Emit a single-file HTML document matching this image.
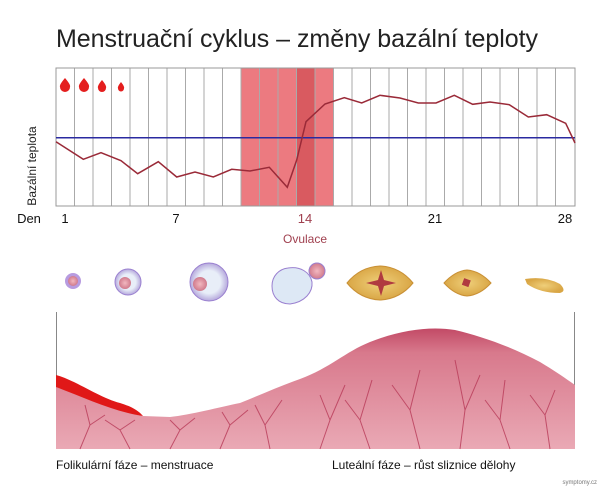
<!DOCTYPE html>
<html><head><meta charset="utf-8"><style>
body{margin:0;background:#fff;}
svg{display:block;font-family:"Liberation Sans","DejaVu Sans",sans-serif;}
</style></head><body>
<svg width="600" height="490" viewBox="0 0 600 490" xmlns="http://www.w3.org/2000/svg">
<defs>
<linearGradient id="lin" x1="0" y1="0" x2="0" y2="1">
<stop offset="0" stop-color="#c24a66"/><stop offset="0.2" stop-color="#d8798c"/><stop offset="1" stop-color="#eaa9b5"/>
</linearGradient>
<radialGradient id="cellb" cx="0.5" cy="0.5" r="0.5"><stop offset="0.6" stop-color="#e8eef8"/><stop offset="1" stop-color="#b5a8dc"/></radialGradient>
<radialGradient id="egg"><stop offset="0" stop-color="#f2b8c0"/><stop offset="1" stop-color="#d07a8c"/></radialGradient>
<radialGradient id="yel"><stop offset="0" stop-color="#efcf7a"/><stop offset="1" stop-color="#d9a645"/></radialGradient>
</defs>
<text x="56" y="47" font-size="25" fill="#222" textLength="482">Menstruační cyklus – změny bazální teploty</text>
<rect x="241" y="68" width="93" height="138" fill="#ec7a80"/>
<rect x="297" y="68" width="18.5" height="138" fill="#d95a60"/>
<g stroke="#aaa" stroke-width="1">
<line x1="74.5" y1="68" x2="74.5" y2="206"/><line x1="93" y1="68" x2="93" y2="206"/><line x1="111.5" y1="68" x2="111.5" y2="206"/><line x1="130" y1="68" x2="130" y2="206"/><line x1="148.5" y1="68" x2="148.5" y2="206"/><line x1="167" y1="68" x2="167" y2="206"/><line x1="185.5" y1="68" x2="185.5" y2="206"/><line x1="204" y1="68" x2="204" y2="206"/><line x1="222.5" y1="68" x2="222.5" y2="206"/><line x1="241" y1="68" x2="241" y2="206"/><line x1="259.5" y1="68" x2="259.5" y2="206"/><line x1="278" y1="68" x2="278" y2="206"/><line x1="296.5" y1="68" x2="296.5" y2="206"/><line x1="315" y1="68" x2="315" y2="206"/><line x1="333.5" y1="68" x2="333.5" y2="206"/><line x1="352" y1="68" x2="352" y2="206"/><line x1="370.5" y1="68" x2="370.5" y2="206"/><line x1="389" y1="68" x2="389" y2="206"/><line x1="407.5" y1="68" x2="407.5" y2="206"/><line x1="426" y1="68" x2="426" y2="206"/><line x1="444.5" y1="68" x2="444.5" y2="206"/><line x1="463" y1="68" x2="463" y2="206"/><line x1="481.5" y1="68" x2="481.5" y2="206"/><line x1="500" y1="68" x2="500" y2="206"/><line x1="518.5" y1="68" x2="518.5" y2="206"/><line x1="537" y1="68" x2="537" y2="206"/><line x1="555.5" y1="68" x2="555.5" y2="206"/>
</g>
<rect x="56" y="68" width="519" height="138" fill="none" stroke="#999"/>
<line x1="56" y1="137.7" x2="575" y2="137.7" stroke="#2a2aa0" stroke-width="1.5"/>
<polyline fill="none" stroke="#9a2a38" stroke-width="1.5" points="56,141.7 83.3,159.3 101,152.7 121,160.7 137.7,173.7 158.3,161.7 176.7,177 195,172 213.3,177 231.7,169.3 250,171 269.3,167.3 287.3,187.3 296.7,160 306,121.7 325,104 344.3,97.7 361.7,103 380,95.3 400,98 418.3,103 436,103 454.3,95.3 472.7,104.3 490,102 509.3,104.7 528.3,117 546.7,114.7 565.7,123.3 575,143"/>
<g fill="#e41e1e">
<path d="M65,78 Q59,85 60,87 A5,5 0 0 0 70,87 Q71,85 65,78Z"/>
<path d="M84,78 Q78,85 79,87 A5,5 0 0 0 89,87 Q90,85 84,78Z"/>
<path d="M102,80 Q97,86 98,88 A4,4 0 0 0 106,88 Q107,86 102,80Z"/>
<path d="M121,82 Q117,87 118,88.5 A3,3 0 0 0 124,88.5 Q125,87 121,82Z"/>
</g>
<text transform="translate(36,166) rotate(-90)" font-size="12" fill="#222" text-anchor="middle">Bazální teplota</text>
<g font-size="13" fill="#111" text-anchor="middle">
<text x="29" y="223">Den</text><text x="65" y="223">1</text><text x="176" y="223">7</text><text x="305" y="223" fill="#a0404f">14</text><text x="435" y="223">21</text><text x="565" y="223">28</text>
</g>
<text x="305" y="243" font-size="12" fill="#a0404f" text-anchor="middle">Ovulace</text>
<circle cx="73" cy="281" r="8" fill="#b79be0"/><circle cx="73" cy="281" r="5" fill="url(#egg)"/>
<circle cx="128" cy="282" r="13" fill="url(#cellb)" stroke="#9a80d0"/><circle cx="125" cy="283" r="6" fill="url(#egg)"/>
<circle cx="209" cy="282" r="19" fill="url(#cellb)" stroke="#9a80d0"/><circle cx="200" cy="284" r="7" fill="url(#egg)"/>
<path d="M288,268 C300,266 310,272 312,282 C313,292 305,302 290,304 C278,304 272,296 272,286 C272,276 279,269 288,268Z" fill="#dde8f5" stroke="#9a80d0"/>
<circle cx="317" cy="271" r="8" fill="url(#egg)" stroke="#9a80d0"/>
<path d="M347,283 Q360,267 380,266 Q400,267 413,283 Q400,299 380,300 Q360,299 347,283Z" fill="url(#yel)" stroke="#c99035"/>
<path d="M366,283 L378,280 L381,270 L384,280 L396,283 L384,286 L381,296 L378,286Z" fill="#b03a40"/>
<path d="M444,283 Q455,271 467,270 Q480,271 491,283 Q480,295 467,296 Q455,295 444,283Z" fill="url(#yel)" stroke="#c99035"/>
<rect x="463" y="279" width="7" height="7" fill="#b03a40" transform="rotate(20 466 282)"/>
<path d="M525,279 Q545,276 560,284 Q567,291 560,293 Q540,293 527,284Z" fill="url(#yel)"/>
<line x1="56.5" y1="312" x2="56.5" y2="449" stroke="#888"/>
<line x1="574.5" y1="312" x2="574.5" y2="449" stroke="#888"/>
<path d="M56,387 C80,395 110,410 143,416 L170,417 C190,415 220,407 240,403 C260,395 280,386 300,379 C330,368 345,352 370,342 C400,330 430,326 455,330 C480,336 510,346 540,362 C555,371 565,378 575,385 L575,449 L56,449Z" fill="url(#lin)"/>
<path d="M56,375 C75,380 100,398 120,403 C130,406 138,410 143,416 C115,412 85,398 56,387Z" fill="#e01818"/>
<g stroke="#b83a58" stroke-width="1" fill="none" opacity="0.8">
<path d="M80,449 L90,425 L85,405 M90,425 L105,415"/><path d="M130,449 L120,430 L105,420 M120,430 L135,420"/>
<path d="M170,449 L180,430 L170,420 M180,430 L195,418"/><path d="M220,449 L230,425 L222,412 M230,425 L248,410"/>
<path d="M270,449 L265,425 L255,405 M265,425 L282,400"/><path d="M320,449 L330,420 L320,395 M330,420 L345,385"/>
<path d="M370,449 L360,420 L372,380 M360,420 L345,400"/><path d="M420,449 L410,410 L420,370 M410,410 L392,385"/>
<path d="M460,449 L465,410 L455,360 M465,410 L480,375"/><path d="M510,449 L500,420 L505,380 M500,420 L485,400"/>
<path d="M550,449 L545,415 L555,390 M545,415 L530,395"/>
</g>
<text x="56" y="469" font-size="12" fill="#111">Folikulární fáze – menstruace</text>
<text x="332" y="469" font-size="12" fill="#111">Luteální fáze – růst sliznice dělohy</text>
<text x="597" y="484" font-size="6" fill="#777" text-anchor="end">symptomy.cz</text>
</svg>
</body></html>
